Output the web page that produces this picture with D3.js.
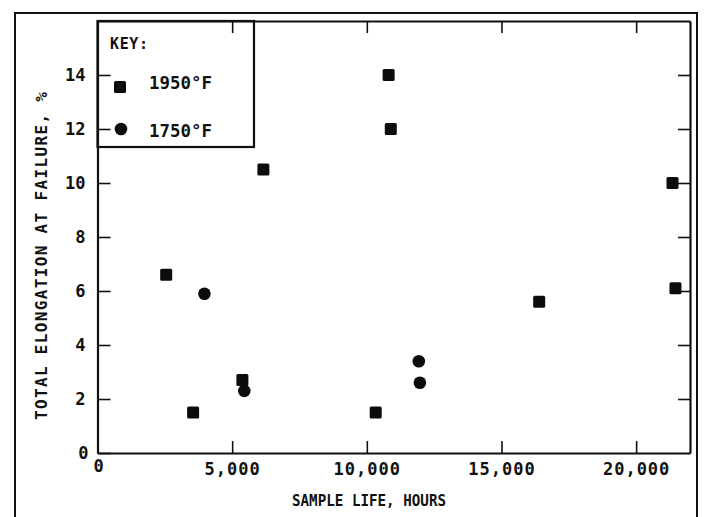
<!DOCTYPE html>
<html>
<head>
<meta charset="utf-8">
<script src="https://cdn.jsdelivr.net/npm/d3@7"></script>
<style>
    body { margin: 0; background: #fff; }
    svg { display: block; }
    .axis path, .axis line { stroke: #111; }
    .axis text { font-family: 'DejaVu Sans Mono', monospace; font-weight: bold; fill: #111; }
</style>
</head>
<body>
<svg></svg>
<script>
// sample life (hours) and total elongation (%)
const hours1950 = [2550, 3550, 5380, 6160, 10330, 10810, 10890, 16400, 21350, 21460],
    elong1950 = [6.6, 1.5, 2.7, 10.5, 1.5, 14.0, 12.0, 5.6, 10.0, 6.1];

const hours1750 = [3970, 5450, 11930, 11970],
    elong1750 = [5.9, 2.3, 3.4, 2.6];

const xTicks = [0, 5000, 10000, 15000, 20000],
    yTicks = [0, 2, 4, 6, 8, 10, 12, 14],
    keyLabels = ['1950\u00b0F', '1750\u00b0F'];

var W = 707, H = 517,
    margin = {top: 21, right: 17, bottom: 64, left: 97.5},
    width = W - margin.left - margin.right,
    height = H - margin.top - margin.bottom;

var svg = d3.select('svg')
    .attr('width', W)
    .attr('height', H);

// outer frame of the page figure
svg.append('rect')
    .attr('x', 15).attr('y', 13)
    .attr('width', 682).attr('height', 600)
    .attr('fill', 'none')
    .attr('stroke', '#111')
    .attr('stroke-width', 2);

var chart = svg.append('g')
    .attr('transform', 'translate(' + margin.left + ',' + margin.top + ')');

var x = d3.scaleLinear().domain([0, 22000]).range([0, width]);
var y = d3.scaleLinear().domain([0, 16]).range([height, 0]);

var fmt = d3.format(',');

chart.append('g')
    .attr('class', 'axis axis--x')
    .attr('transform', 'translate(0,' + height + ')')
    .call(d3.axisBottom(x).tickValues(xTicks).tickFormat(fmt)
        .tickSizeInner(-12).tickSizeOuter(0).tickPadding(10))
    .call(function(g) {
        g.selectAll('text').style('font-size', '17px').attr('letter-spacing', 1);
        g.selectAll('.tick text').filter(function(d) { return d === 0; })
            .attr('x', 1).attr('y', 7);
    });

chart.append('g')
    .attr('class', 'axis axis--y')
    .call(d3.axisLeft(y).tickValues(yTicks)
        .tickSizeInner(-13).tickSizeOuter(0).tickPadding(12))
    .call(function(g) {
        g.selectAll('text').style('font-size', '17px');
        g.selectAll('.tick text').filter(function(d) { return d === 0; })
            .attr('x', -9).attr('dy', '0.3em');
    });

chart.append('g')
    .attr('class', 'axis axis--top')
    .call(d3.axisTop(x).tickValues(xTicks.slice(1)).tickFormat('')
        .tickSizeInner(-12).tickSizeOuter(0));

chart.append('g')
    .attr('class', 'axis axis--right')
    .attr('transform', 'translate(' + width + ',0)')
    .call(d3.axisRight(y).tickValues(yTicks.slice(1)).tickFormat('')
        .tickSizeInner(-12).tickSizeOuter(0));

chart.selectAll('.axis path').attr('stroke-width', 2.2);
chart.selectAll('.axis line').attr('stroke-width', 1.6);

// data points
var sq = 12;
chart.selectAll('.p1950')
    .data(hours1950.map(function(h, i) { return {h: h, e: elong1950[i]}; }))
  .enter().append('rect')
    .attr('class', 'p1950')
    .attr('x', function(d) { return x(d.h) - sq / 2; })
    .attr('y', function(d) { return y(d.e) - sq / 2; })
    .attr('width', sq).attr('height', sq)
    .attr('rx', 1.5)
    .attr('fill', '#0c0c0c');

chart.selectAll('.p1750')
    .data(hours1750.map(function(h, i) { return {h: h, e: elong1750[i]}; }))
  .enter().append('circle')
    .attr('class', 'p1750')
    .attr('cx', function(d) { return x(d.h); })
    .attr('cy', function(d) { return y(d.e); })
    .attr('r', 6.3)
    .attr('fill', '#0c0c0c');

// key box
var key = svg.append('g');
key.append('rect')
    .attr('x', margin.left).attr('y', margin.top)
    .attr('width', 254 - margin.left).attr('height', 147 - margin.top)
    .attr('fill', 'none')
    .attr('stroke', '#111')
    .attr('stroke-width', 2.2);

key.append('text')
    .attr('x', 110).attr('y', 49)
    .style('font-family', "'DejaVu Sans Mono', monospace")
    .style('font-weight', 'bold')
    .style('font-size', '15px')
    .attr('fill', '#111')
    .attr('textLength', 38)
    .text('KEY:');

key.append('rect')
    .attr('x', 120 - sq / 2).attr('y', 87 - sq / 2)
    .attr('width', sq).attr('height', sq).attr('rx', 1.5)
    .attr('fill', '#0c0c0c');
key.append('circle')
    .attr('cx', 121).attr('cy', 129).attr('r', 6.3)
    .attr('fill', '#0c0c0c');

key.selectAll('.keylabel')
    .data(keyLabels)
  .enter().append('text')
    .attr('class', 'keylabel')
    .attr('x', 149)
    .attr('y', function(d, i) { return i === 0 ? 89 : 137; })
    .style('font-family', "'DejaVu Sans Mono', monospace")
    .style('font-weight', 'bold')
    .style('font-size', '17px')
    .attr('fill', '#111')
    .attr('textLength', 63)
    .attr('lengthAdjust', 'spacingAndGlyphs')
    .text(function(d) { return d; });

// axis titles
svg.append('text')
    .attr('x', 369).attr('y', 506)
    .attr('text-anchor', 'middle')
    .style('font-family', "'DejaVu Sans Mono', monospace")
    .style('font-weight', 'bold')
    .style('font-size', '16px')
    .attr('fill', '#111')
    .attr('textLength', 154)
    .attr('lengthAdjust', 'spacingAndGlyphs')
    .text('SAMPLE LIFE, HOURS');

svg.append('text')
    .attr('transform', 'translate(47,256) rotate(-90)')
    .attr('text-anchor', 'middle')
    .style('font-family', "'DejaVu Sans Mono', monospace")
    .style('font-weight', 'bold')
    .style('font-size', '16px')
    .attr('fill', '#111')
    .attr('textLength', 328)
    .text('TOTAL ELONGATION AT FAILURE, %');
</script>
</body>
</html>
